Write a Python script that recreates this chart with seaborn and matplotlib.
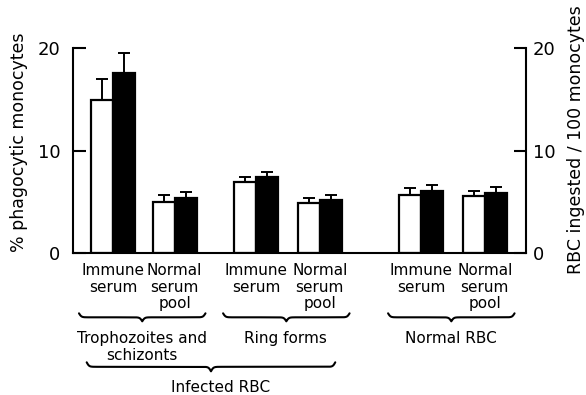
import numpy as np
import pandas as pd
import matplotlib
matplotlib.use("Agg")
import matplotlib.pyplot as plt
import matplotlib.transforms as mtransforms
import seaborn as sns

# Values
conditions = ["Immune\nserum", "Normal\nserum\npool",
              "Immune\nserum", "Normal\nserum\npool",
              "Immune\nserum", "Normal\nserum\npool"]
pct_phago = [15.0, 5.0, 7.0, 4.9, 5.7, 5.6]        # % phagocytic monocytes (white)
pct_sem = [2.0, 0.72, 0.43, 0.5, 0.65, 0.5]
rbc_ingested = [17.6, 5.4, 7.4, 5.2, 6.1, 5.9]     # RBC ingested / 100 monocytes (black)
rbc_sem = [1.9, 0.62, 0.49, 0.45, 0.6, 0.55]
group_labels = ["Trophozoites and\nschizonts", "Ring forms", "Normal RBC"]
outer_label = "Infected RBC"

# layout: where each condition pair sits on the x axis (bar width = 1)
xpos = [1.8, 4.6, 8.3, 11.2, 15.8, 18.7]

df = pd.DataFrame({
    "x": xpos * 2,
    "measure": ["pct"] * 6 + ["rbc"] * 6,
    "value": pct_phago + rbc_ingested,
})

sns.set_theme(style="white")
plt.rcParams["font.family"] = ["DejaVu Sans"]
plt.rcParams["text.color"] = "black"
plt.rcParams["axes.labelcolor"] = "black"

fig, ax = plt.subplots(figsize=(5.86, 3.95), dpi=100)
fig.subplots_adjust(left=0.1254, right=0.8976, bottom=0.3587, top=0.8777)

min_gap = np.diff(sorted(xpos)).min()
sns.barplot(data=df, x="x", y="value", hue="measure", hue_order=["pct", "rbc"],
            palette={"pct": "white", "rbc": "black"}, native_scale=True,
            width=2.0 / min_gap, errorbar=None, edgecolor="black",
            linewidth=1.6, legend=False, ax=ax)

# error bars (upper only), placed on the bars seaborn drew
bars = sorted(ax.patches, key=lambda p: p.get_x())
errs = [e for pair in zip(pct_sem, rbc_sem) for e in pair]
bx = [b.get_x() + b.get_width() / 2 for b in bars]
bh = [b.get_height() for b in bars]
ax.errorbar(bx, bh, yerr=[np.zeros(len(errs)), errs], fmt="none",
            ecolor="black", elinewidth=1.4, capsize=4.5, capthick=1.4, zorder=3)

ax.set_xlim(0, 20.57)
ax.set_ylim(0, 20)
ax.set_xticks([])
ax.set_yticks([0, 10, 20])
ax.set_xlabel("")
ax.set_ylabel("% phagocytic monocytes", fontsize=12.5, color="black")
ax.yaxis.set_label_coords(-0.1005, 0.54)
ax.tick_params(axis="y", direction="in", length=9.5, width=1.5, pad=9.5,
               labelsize=13, colors="black")
for s in ["top", "right"]:
    ax.spines[s].set_visible(False)
for s in ["left", "bottom"]:
    ax.spines[s].set_linewidth(1.5)
    ax.spines[s].set_color("black")

ax2 = ax.twinx()
ax2.set_ylim(0, 20)
ax2.set_yticks([0, 10, 20])
ax2.set_ylabel("RBC ingested / 100 monocytes", fontsize=12.5, color="black")
ax2.yaxis.set_label_coords(1.0906, 0.555)
ax2.tick_params(axis="y", direction="in", length=8.5, width=1.5, pad=5,
                labelsize=13, colors="black")
for s in ["top", "left", "bottom"]:
    ax2.spines[s].set_visible(False)
ax2.spines["right"].set_linewidth(1.5)
ax2.spines["right"].set_color("black")
ax2.grid(False)

trans = mtransforms.blended_transform_factory(ax.transData, ax.transAxes)
px = 1.0 / 205.0  # one pixel in axes-fraction units (vertical)


def brace(x0, x1, y_end, depth):
    half = np.linspace(0, (x1 - x0) / 2, 200)
    beta = 18.0
    shape = 1 / (1 + np.exp(-beta * half)) + 1 / (1 + np.exp(-beta * (half - half[-1]))) - 0.5
    xs = np.concatenate([x0 + half, x0 + (x1 - x0) / 2 + half[1:]])
    ys = np.concatenate([shape, shape[::-1][1:]])
    ax.plot(xs, y_end - depth * ys, transform=trans, color="black",
            lw=1.5, clip_on=False)


for x, lab in zip(xpos, conditions):
    ax.text(x, -9.5 * px, lab, transform=trans, ha="center", va="top",
            fontsize=11, linespacing=1.15, multialignment="center", color="black")

for g, lab in enumerate(group_labels):
    mid = (xpos[2 * g] + xpos[2 * g + 1]) / 2
    brace(mid - 2.95, mid + 2.8, -60 * px, 8 * px)
    ax.text(mid - 0.1, -78 * px, lab, transform=trans, ha="center", va="top",
            fontsize=11, linespacing=1.15, multialignment="center", color="black")

outer_mid = (xpos[0] + xpos[3]) / 2
brace(xpos[0] - 1.2, xpos[3] + 0.7, -109 * px, 9 * px)
ax.text(outer_mid + 0.2, -134 * px, outer_label, transform=trans,
        ha="center", va="center", fontsize=11, color="black")

ax.set_xlim(0, 20.57)
ax.set_ylim(0, 20)

plt.savefig("out.png", dpi=100)
